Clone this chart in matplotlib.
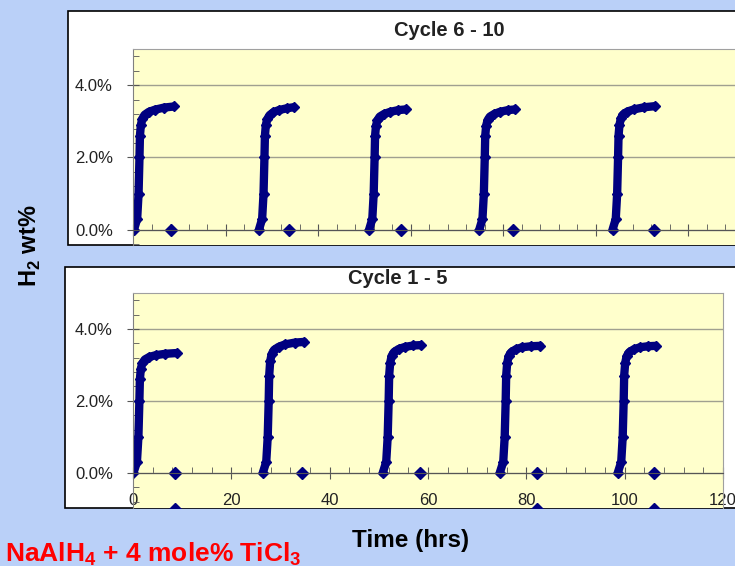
import matplotlib.pyplot as plt
from matplotlib.patches import Rectangle
from matplotlib.ticker import MultipleLocator, FuncFormatter

plt.rcParams['font.family'] = ['Liberation Sans', 'DejaVu Sans']
plt.rcParams['mathtext.fontset'] = 'custom'
plt.rcParams['mathtext.rm'] = 'Liberation Sans'
plt.rcParams['mathtext.bf'] = 'Liberation Sans:bold'

# hours / H2 wt%, one list per cycle
top_t = [
    [0.2, 0.9, 1.2, 1.4, 1.5, 1.7, 2.0, 2.5, 3.4, 4.7, 6.7, 8.8],
    [27.2, 27.9, 28.2, 28.4, 28.5, 28.7, 29.0, 29.5, 30.3, 31.5, 33.2, 34.7],
    [51.0, 51.7, 52.0, 52.2, 52.3, 52.5, 52.8, 53.3, 54.2, 55.5, 57.3, 59.0],
    [74.8, 75.5, 75.8, 76.0, 76.1, 76.3, 76.6, 77.1, 78.0, 79.2, 81.0, 82.6],
    [103.6, 104.3, 104.6, 104.8, 104.9, 105.1, 105.4, 105.9, 106.8, 108.2, 110.5, 112.8],
]
top_h = [
    [0.0, 0.3, 1.0, 2.0, 2.6, 2.9, 3.07, 3.18, 3.26, 3.32, 3.38, 3.41],
    [0.0, 0.3, 1.0, 2.0, 2.6, 2.9, 3.06, 3.17, 3.25, 3.31, 3.36, 3.39],
    [0.0, 0.3, 1.0, 2.0, 2.6, 2.88, 3.03, 3.13, 3.20, 3.26, 3.31, 3.33],
    [0.0, 0.3, 1.0, 2.0, 2.6, 2.88, 3.03, 3.13, 3.20, 3.26, 3.31, 3.33],
    [0.0, 0.3, 1.0, 2.0, 2.6, 2.9, 3.08, 3.19, 3.27, 3.33, 3.39, 3.42],
]
top_zero_t = [8.2, 33.7, 57.9, 82.0, 112.5]

bottom_t = [
    [0.1, 0.8, 1.1, 1.3, 1.4, 1.6, 1.9, 2.4, 3.3, 4.6, 6.6, 8.9],
    [26.4, 27.1, 27.4, 27.6, 27.7, 27.9, 28.2, 28.7, 29.6, 30.9, 32.9, 34.8],
    [50.8, 51.5, 51.8, 52.0, 52.1, 52.3, 52.6, 53.1, 54.0, 55.3, 57.0, 58.5],
    [74.6, 75.3, 75.6, 75.8, 75.9, 76.1, 76.4, 76.9, 77.8, 79.1, 81.0, 82.8],
    [98.6, 99.3, 99.6, 99.8, 99.9, 100.1, 100.4, 100.9, 101.8, 103.1, 104.8, 106.3],
]
bottom_h = [
    [0.0, 0.3, 1.0, 2.0, 2.6, 2.9, 3.05, 3.15, 3.22, 3.27, 3.31, 3.33],
    [0.0, 0.3, 1.0, 2.0, 2.7, 3.1, 3.30, 3.42, 3.50, 3.57, 3.62, 3.64],
    [0.0, 0.3, 1.0, 2.0, 2.7, 3.05, 3.25, 3.36, 3.44, 3.50, 3.54, 3.55],
    [0.0, 0.3, 1.0, 2.0, 2.7, 3.05, 3.24, 3.35, 3.43, 3.49, 3.52, 3.53],
    [0.0, 0.3, 1.0, 2.0, 2.7, 3.05, 3.24, 3.35, 3.43, 3.49, 3.52, 3.53],
]
bottom_zero_t = [8.5, 34.4, 58.4, 82.1, 106.0]
bottom_neg_t = [8.5, 82.1, 106.0]
bottom_neg_h = [-1.0, -1.0, -1.0]

navy = '#000080'
bg = '#BAD0F8'

fig = plt.figure(figsize=(7.35, 5.66), dpi=100, facecolor=bg)
W, H = 735.0, 566.0


def px_box(x0, y0, x1, y1):
    # pixel box (top-left origin) -> figure fraction rect
    return [x0 / W, 1 - y1 / H, (x1 - x0) / W, (y1 - y0) / H]


# white chart boxes
for x0, y0, y1 in [(68, 11, 245), (65, 267, 508)]:
    r = px_box(x0, y0, 760, y1)
    fig.patches.append(Rectangle((r[0], r[1]), r[2], r[3], transform=fig.transFigure,
                                 facecolor='white', edgecolor='black', lw=1.2, zorder=-5))


def style_axes(ax, xmax, ymin):
    ax.set_facecolor('#FFFFCC')
    ax.set_xlim(0, xmax)
    ax.set_ylim(ymin, 5.0)
    ax.spines['bottom'].set_position(('data', 0))
    ax.spines['bottom'].set_color('#555555')
    ax.spines['left'].set_color('#808080')
    for s in ['top', 'right']:
        ax.spines[s].set_color('#A0A0A0')
    ax.xaxis.set_major_locator(MultipleLocator(20))
    ax.xaxis.set_minor_locator(MultipleLocator(4))
    ax.yaxis.set_major_locator(MultipleLocator(2))
    ax.yaxis.set_minor_locator(MultipleLocator(0.4))
    ax.yaxis.set_major_formatter(FuncFormatter(lambda v, p: f'{v:.1f}%' if v >= 0 else ''))
    ax.tick_params(which='major', direction='inout', length=9, color='#555555', labelsize=12,
                   labelcolor='#222222')
    ax.tick_params(which='minor', direction='in', length=4, color='#555555')
    ax.tick_params(axis='y', which='major', pad=10)
    ax.grid(axis='y', which='major', color='#A0A090', lw=1)
    ax.set_axisbelow(True)


def draw_cycles(ax, times, values):
    for t, h in zip(times, values):
        ax.plot(t, h, color=navy, lw=6, solid_joinstyle='round', solid_capstyle='round')
        ax.plot(t, h, 'D', color=navy, ms=5, ls='none')


ax1 = fig.add_axes(px_box(133, 49, 781, 245))
style_axes(ax1, 140, -0.42)
ax1.tick_params(axis='x', labelbottom=False)
draw_cycles(ax1, top_t, top_h)
ax1.plot(top_zero_t, [0] * len(top_zero_t), 'D', color=navy, ms=6, ls='none')

ax2 = fig.add_axes(px_box(133, 293, 723, 508))
style_axes(ax2, 120, -0.98)
ax2.tick_params(axis='x', which='major', pad=10)
draw_cycles(ax2, bottom_t, bottom_h)
ax2.plot(bottom_zero_t, [0] * len(bottom_zero_t), 'D', color=navy, ms=6, ls='none')
ax2.plot(bottom_neg_t, bottom_neg_h, 'D', color=navy, ms=6, ls='none')

fig.text(449 / W, 1 - 30 / H, 'Cycle 6 - 10', ha='center', va='center',
         fontsize=14.5, fontweight='bold', color='#222222')
fig.text(398 / W, 1 - 279 / H, 'Cycle 1 - 5', ha='center', va='center',
         fontsize=14.5, fontweight='bold', color='#222222')
fig.text(30 / W, 1 - 246 / H, r'H$_\mathbf{2}$ wt%', rotation=90, ha='center', va='center',
         fontsize=17, fontweight='bold')
fig.text(411 / W, 1 - 540 / H, 'Time (hrs)', ha='center', va='center',
         fontsize=17.5, fontweight='bold')
fig.text(5 / W, 1 - 561 / H, r'NaAlH$_\mathbf{4}$ + 4 mole% TiCl$_\mathbf{3}$', ha='left',
         va='baseline', fontsize=19, fontweight='bold', color='#FF0000')

fig.savefig('out.png', dpi=100, facecolor=bg)
